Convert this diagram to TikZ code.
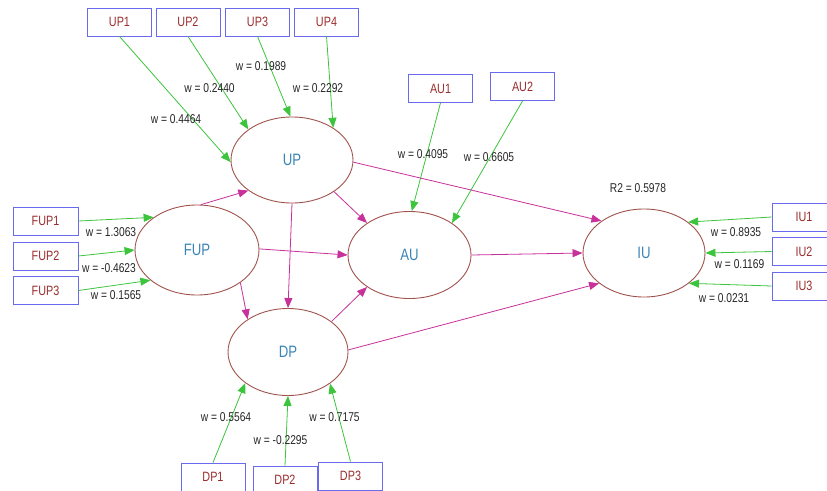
\documentclass[tikz,border=0pt]{standalone}
\usepackage{fontspec}
\setmainfont[FakeStretch=0.8]{Liberation Sans}
\usetikzlibrary{shapes.geometric,arrows.meta}
\definecolor{boxline}{HTML}{6A6AEE}
\definecolor{boxtext}{HTML}{9B2C2C}
\definecolor{ellline}{HTML}{A0524D}
\definecolor{elltext}{HTML}{3A85B5}
\definecolor{outer}{HTML}{3CC43C}
\definecolor{inner}{HTML}{C8309A}
\definecolor{wtext}{HTML}{262626}
\begin{document}
\begin{tikzpicture}[x=1pt,y=-1pt,
  latent/.style={ellipse,draw=ellline,line width=0.9pt,inner sep=0pt,text=elltext,
    font=\fontsize{16.5}{18}\selectfont},
  indicator/.style={rectangle,draw=boxline,line width=0.9pt,minimum width=64,minimum height=28,
    inner sep=0pt,text=boxtext,font=\fontsize{13.5}{15}\selectfont},
  weight/.style={text=wtext,inner sep=0pt,font=\fontsize{12.8}{14}\selectfont},
  loading/.style={draw=outer,line width=0.8pt,-{Triangle[length=10pt,width=8pt]}},
  path/.style={draw=inner,line width=0.8pt,-{Triangle[length=10pt,width=8pt]}}]
\useasboundingbox (0,0) rectangle (827,490);
\clip (0,0) rectangle (827,490);

% latent constructs
\node[latent,minimum width=122,minimum height=86] (UP)  at (292,160) {UP};
\node[latent,minimum width=124,minimum height=90] (FUP) at (197,250) {FUP};
\node[latent,minimum width=123,minimum height=87] (AU)  at (409.5,255) {AU};
\node[latent,minimum width=122,minimum height=88] (IU)  at (644,253) {IU};
\node[latent,minimum width=120,minimum height=87] (DP)  at (288,352) {DP};

% indicators
\node[indicator] (UP1) at (119.5,22) {UP1};
\node[indicator] (UP2) at (188,22) {UP2};
\node[indicator] (UP3) at (257.5,22) {UP3};
\node[indicator] (UP4) at (326.5,22) {UP4};
\node[indicator] (AU1) at (440.5,88.5) {AU1};
\node[indicator] (AU2) at (522.5,86.5) {AU2};
\node[indicator,minimum width=65] (FUP1) at (45.5,221) {FUP1};
\node[indicator,minimum width=65] (FUP2) at (45.5,256) {FUP2};
\node[indicator,minimum width=65] (FUP3) at (45.5,290.5) {FUP3};
\node[indicator] (IU1) at (804,217) {IU1};
\node[indicator] (IU2) at (804,251.5) {IU2};
\node[indicator] (IU3) at (804,286) {IU3};
\node[indicator] (DP1) at (213,477) {DP1};
\node[indicator] (DP2) at (285,480) {DP2};
\node[indicator] (DP3) at (350.5,476) {DP3};

% outer weights
\draw[loading] (UP1.south) -- (UP.182);
\draw[loading] (UP2.south) -- (UP.145);
\draw[loading] (UP3.south) -- (UP.92);
\draw[loading] (UP4.south) -- (UP.38);
\draw[loading] (AU1.south) -- (AU.87);
\draw[loading] (AU2.south) -- (AU.37);
\draw[loading] (FUP1.east) -- (FUP.143);
\draw[loading] (FUP2.east) -- (FUP.180);
\draw[loading] (FUP3.east) -- (FUP.213);
\draw[loading] (IU1.west) -- (IU.35);
\draw[loading] (IU2.west) -- (IU.0);
\draw[loading] (IU3.west) -- (IU.-34);
\draw[loading] (DP1.north) -- (DP.216);
\draw[loading] (DP2.north) -- (DP.270);
\draw[loading] (DP3.north) -- (DP.323);

% structural paths
\draw[path] (FUP.85) -- (UP.215);
\draw[path] (UP.-37) -- (AU.143);
\draw[path] (UP.270) -- (DP.90);
\draw[path] (UP.-2) -- (IU.143);
\draw[path] (FUP.1) -- (AU.180);
\draw[path] (FUP.-37) -- (DP.141);
\draw[path] (DP.35) -- (AU.217);
\draw[path] (AU.0) -- (IU.180);
\draw[path] (DP.2) -- (IU.214);

% weight labels
\node[weight] (wUP1) at (176,119) {w = 0.4464};
\node[weight] (wUP2) at (209.5,88) {w = 0.2440};
\node[weight] (wUP3) at (261,66) {w = 0.1989};
\node[weight] (wUP4) at (318,88) {w = 0.2292};
\node[weight] (wAU1) at (423,154) {w = 0.4095};
\node[weight] (wAU2) at (489,157) {w = 0.6605};
\node[weight] (wFUP1) at (111,232) {w = 1.3063};
\node[weight] (wFUP2) at (109,268) {w = -0.4623};
\node[weight] (wFUP3) at (116,295) {w = 0.1565};
\node[weight] (r2) at (638,188) {R2 = 0.5978};
\node[weight] (wIU1) at (736,232) {w = 0.8935};
\node[weight] (wIU2) at (739.5,264) {w = 0.1169};
\node[weight] (wIU3) at (724,298) {w = 0.0231};
\node[weight] (wDP1) at (226,417) {w = 0.5564};
\node[weight] (wDP2) at (280.5,440) {w = -0.2295};
\node[weight] (wDP3) at (334.5,417) {w = 0.7175};
\end{tikzpicture}
\end{document}
